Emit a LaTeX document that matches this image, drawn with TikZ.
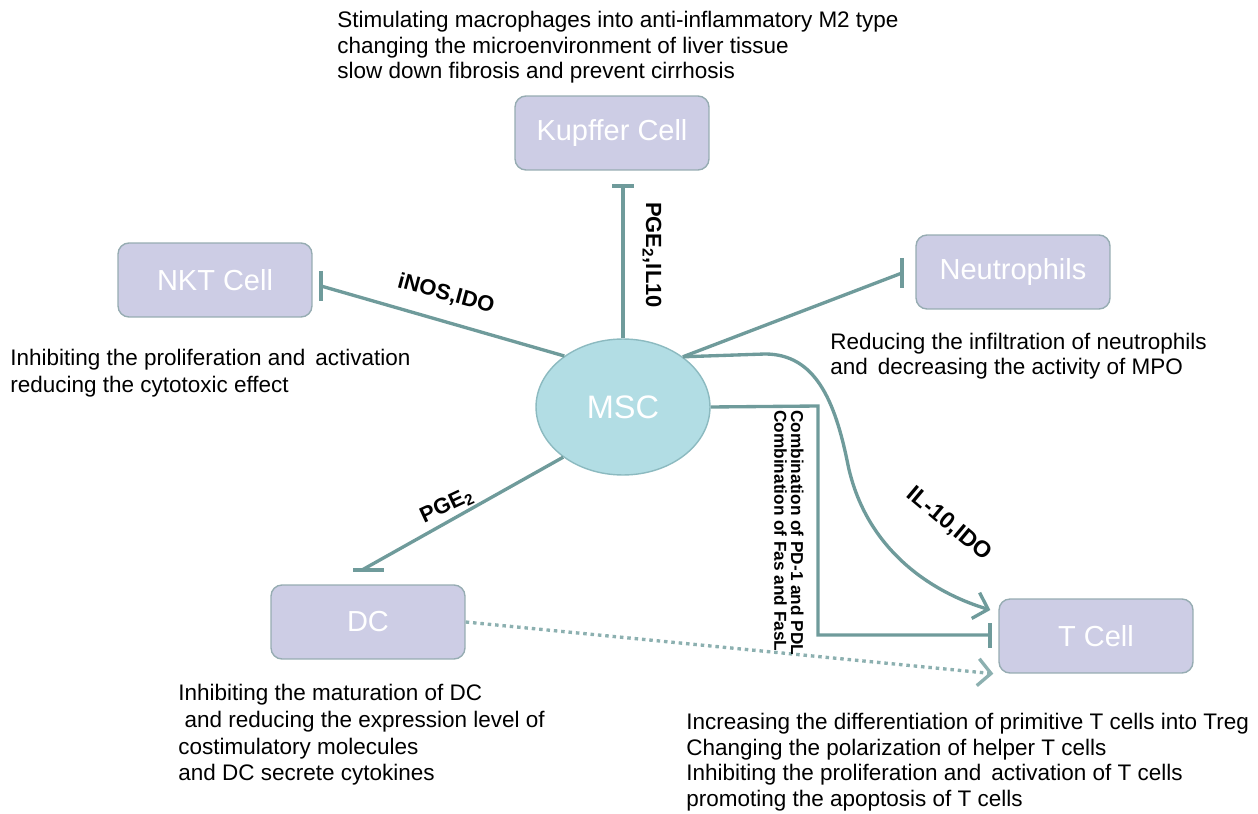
\documentclass[tikz,border=0pt]{standalone}
\usepackage{fontspec}
\setmainfont{Liberation Sans}
\usetikzlibrary{arrows.meta}
\usetikzlibrary{shapes.geometric}
\usetikzlibrary{calc}

\definecolor{linecol}{RGB}{111,155,155}
\definecolor{dotcol}{RGB}{140,176,176}
\definecolor{boxfill}{RGB}{205,205,229}
\definecolor{boxline}{RGB}{150,172,178}
\definecolor{mscfill}{RGB}{178,221,228}
\definecolor{mscline}{RGB}{140,186,192}

\tikzset{
	inhib/.style = {draw = linecol, line width = 1.9pt},
	stim/.style = {draw = linecol, line width = 1.9pt, -{Straight Barb[length=2.6mm, width=5.4mm, line width=1.9pt]}},
	effect/.style = {anchor = north west, align = left, inner sep = 0pt, font = \fontsize{12.8}{15.2}\selectfont},
	factor/.style = {inner sep = 0pt, font = \fontsize{12.5}{14}\selectfont\bfseries}
}

\begin{document}
\begin{tikzpicture}[x = 0.02cm, y = -0.02cm]
		\useasboundingbox (0, 0) rectangle (1258, 814);

		\begin{scope}[every node/.style={rectangle, rounded corners = 2.2mm, draw = boxline, line width = 0.8pt, fill = boxfill, text = white, minimum width = 3.88cm, minimum height = 1.48cm, font = \fontsize{16.5}{19}\selectfont}]
		\node (kupffer) at (612, 133) {Kupffer Cell};
		\node (nkt) at (215, 280) {NKT Cell};
		\node (neutro) at (1013, 272) {Neutrophils};
		\node (dc) at (368, 622) {DC};
		\node (tcell) at (1096, 636) {T Cell};
		\end{scope}

		\node (msc) [ellipse, draw = mscline, line width = 0.8pt, fill = mscfill, text = white, minimum width = 3.48cm, minimum height = 2.72cm, font = \fontsize{18.5}{21}\selectfont] at (623, 407) {MSC};

		% ends of the inhibition bars
		\coordinate (kupbar) at (623, 186);
		\coordinate (nktbar) at (321, 286);
		\coordinate (neubar) at (902, 273);
		\coordinate (dcbar) at (362, 570);
		\coordinate (tbar) at (990, 635);
		\coordinate (tbend) at (818, 406);

		\draw [inhib] (msc.north) -- (kupbar);
		\draw [inhib] ($(kupbar) + (-11, 0)$) -- ($(kupbar) + (11, 0)$);

		\draw [inhib] (msc.139) -- (nktbar);
		\draw [inhib] ($(nktbar) + (0, -15)$) -- ($(nktbar) + (0, 15)$);

		\draw [inhib] (msc.40) -- (neubar);
		\draw [inhib] ($(neubar) + (0, -15)$) -- ($(neubar) + (0, 15)$);

		\draw [inhib] (msc.220) -- (dcbar);
		\draw [inhib] ($(dcbar) + (-9, 0)$) -- ($(dcbar) + (22, 0)$);

		\draw [inhib] (msc.east) -- (tbend) |- (tbar);
		\draw [inhib] ($(tbar) + (0, -12)$) -- ($(tbar) + (0, 13)$);

		\draw [stim] (msc.40) -- (765, 354) .. controls (815, 354) and (835, 400) .. (848, 465)
			.. controls (865, 545) and (925, 590) .. ($(tcell.west) + (-8, -26)$);

		\draw [stim, draw = dotcol, line width = 1.9pt, dash pattern = on 2pt off 2.2pt] (dc.east) -- ($(tcell.south west) + (-5, 0)$);

		% labels on the connectors
		\node (lkup) [factor, rotate = -90] at (652, 255) {PGE$_{\mathbf 2}$,IL10};
		\node (lnkt) [factor, rotate = -15] at (446, 294) {iNOS,IDO};
		\node (ldc) [factor, rotate = 25] at (447, 506) {PGE$_{\mathbf 2}$};
		\node (lil) [factor, rotate = -40, font = \fontsize{13.2}{15}\selectfont\bfseries] at (949, 524) {IL-10,IDO};
		\node (lcomb) [factor, rotate = -90, anchor = north west, align = left, font = \fontsize{9.8}{9.6}\selectfont\bfseries] at (804, 410) {Combination of PD-1 and PDL\\Combination of Fas and FasL};

		% effects
		\node (tkup) [effect, font = \fontsize{12.8}{14.6}\selectfont] at (337, 11) {Stimulating macrophages into anti-inflammatory M2 type\\changing the microenvironment of liver tissue\\slow down fibrosis and prevent cirrhosis};
		\node (tnkt) [effect] at (10, 349) {Inhibiting the proliferation and\, activation\\reducing the cytotoxic effect};
		\node (tneu) [effect, font = \fontsize{12.8}{14.2}\selectfont] at (830, 333) {Reducing the infiltration of neutrophils\\and\, decreasing the activity of MPO};
		\node (tdc) [effect] at (178, 684) {Inhibiting the maturation of DC\\\ and reducing the expression level of\\costimulatory molecules\\and DC secrete cytokines};
		\node (tt) [effect, font = \fontsize{12.8}{14.6}\selectfont] at (686, 713) {Increasing the differentiation of primitive T cells into Treg\\Changing the polarization of helper T cells\\Inhibiting the proliferation and\, activation of T cells\\promoting the apoptosis of T cells};

		\end{tikzpicture}
\end{document}
